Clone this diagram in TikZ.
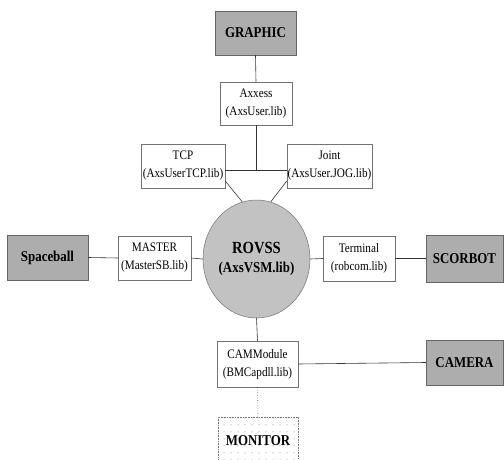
\documentclass[tikz,border=0pt]{standalone}
\usepackage{fontspec}
\setmainfont{Liberation Serif}[FakeStretch=0.86]
\usetikzlibrary{shapes.geometric,patterns.meta,calc}
\begin{document}
\begin{tikzpicture}[x=1pt,y=-1pt,
  libbox/.style={draw=black!55,line width=0.5pt,fill=white,inner sep=0pt,
    align=center,font=\fontsize{13}{18}\selectfont},
  devbox/.style={draw=black!60,line width=0.5pt,fill=black!32,inner sep=0pt,
    align=center,font=\bfseries\fontsize{15}{17}\selectfont},
  conn/.style={draw=black!80,line width=0.6pt}]
\clip (0,0) rectangle (504,460);
\fill[white] (0,0) rectangle (504,460);
% devices
\node[devbox,minimum width=81,minimum height=44] (graphic) at (255.5,33) {GRAPHIC};
\node[devbox,minimum width=81,minimum height=45] (spaceball) at (47.5,257.5) {Spaceball};
\node[devbox,minimum width=77,minimum height=47] (scorbot) at (464.5,258.5) {SCORBOT};
\node[devbox,minimum width=77,minimum height=45] (camera) at (464.5,362.5) {CAMERA};
% libraries
\node[libbox,minimum width=72,minimum height=43] (axxess) at (256,103.5) {Axxess\\(AxsUser.lib)};
\node[libbox,minimum width=84,minimum height=44] (tcp) at (183,166) {TCP\\(AxsUserTCP.lib)};
\node[libbox,minimum width=85,minimum height=44] (joint) at (329.5,166) {Joint\\(AxsUser.JOG.lib)};
\node[libbox,minimum width=73,minimum height=44] (master) at (154.5,258) {MASTER\\(MasterSB.lib)};
\node[libbox,minimum width=72,minimum height=45] (terminal) at (359,258.5) {Terminal\\(robcom.lib)};
\node[libbox,minimum width=81,minimum height=46] (cam) at (257.5,364) {CAMModule\\(BMCapdll.lib)};
% core
\node[ellipse,draw=black!55,line width=0.5pt,fill=black!24,inner sep=0pt,
  minimum width=87,minimum height=118,align=center,
  font=\bfseries\fontsize{15}{19}\selectfont] (rovss) at (256.5,259)
  {\fontsize{17}{19}\selectfont ROVSS\\(AxsVSM.lib)};
% monitor
\node[draw=black!55,densely dotted,line width=0.6pt,
  pattern={Dots[radius=0.5pt,distance=7pt]},pattern color=black!60,
  minimum width=80,minimum height=48,inner sep=0pt,
  font=\bfseries\fontsize{15}{17}\selectfont] (monitor) at (258,441) {MONITOR};
% helper coordinates
\coordinate (J) at (256,170);
\coordinate (D) at (256,181);
% connectors
\draw[conn] (graphic.south) -- (axxess.north);
\draw[conn] (axxess.south) -- (J);
\draw[conn] (tcp.east |- J) -- (joint.west |- J);
\draw[conn] (tcp.east |- D) -- (rovss.104);
\draw[conn] (joint.west |- D) -- (rovss.76);
\draw[conn] (spaceball.east) -- (master.west);
\draw[conn] (master.east) -- (rovss.west);
\draw[conn] (rovss.east) -- (terminal.west);
\draw[conn] (terminal.east) -- (scorbot.west);
\draw[conn] (rovss.south) -- (cam.north);
\draw[conn] (cam.east) -- (camera.west);
\draw[conn,dotted] (cam.south) -- (monitor.north);
\end{tikzpicture}
\end{document}
